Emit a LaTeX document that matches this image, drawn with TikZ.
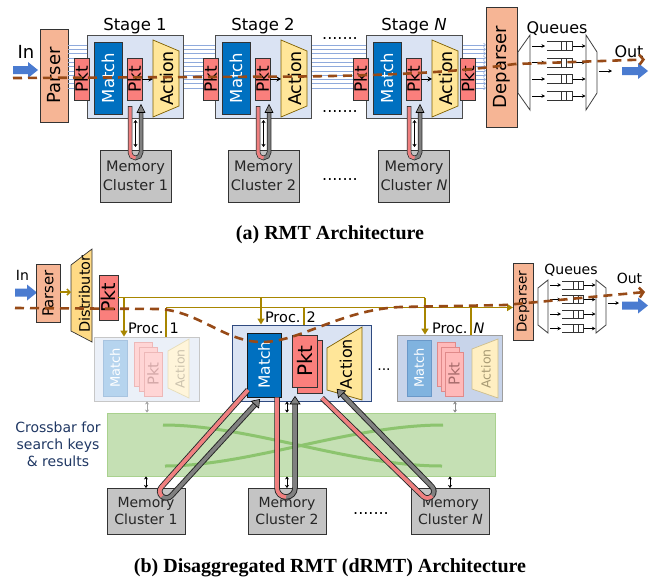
\documentclass[tikz,border=0pt]{standalone}
\usepackage{fontspec}
\usepackage{graphicx}
\setmainfont{DejaVu Sans}
\newfontfamily\capfont{Liberation Serif}
\usetikzlibrary{arrows.meta,calc}
\definecolor{matchblue}{HTML}{0070C0}
\definecolor{pktred}{HTML}{FA7F7C}
\definecolor{actyel}{HTML}{FFE699}
\definecolor{actline}{HTML}{7F6000}
\definecolor{stagefill}{HTML}{DAE3F3}
\definecolor{salmon}{HTML}{F6B595}
\definecolor{linkblue}{HTML}{8FAADC}
\definecolor{dashbrown}{HTML}{974A17}
\definecolor{olivec}{HTML}{A88600}
\definecolor{memgray}{HTML}{C4C4C4}
\definecolor{arrowblue}{HTML}{4A7BD0}
\definecolor{tubered}{HTML}{F07F7F}
\definecolor{tubegray}{HTML}{808080}
\definecolor{xbarfill}{HTML}{C5E0B4}
\definecolor{xbarline}{HTML}{A9D18E}
\definecolor{xbarcurve}{HTML}{8CC46E}
\definecolor{navytext}{HTML}{203864}
\definecolor{distfill}{HTML}{FFDA85}
\definecolor{procborder}{HTML}{2F4A80}
\definecolor{pnfill}{HTML}{C8D4EA}
\definecolor{fmline}{HTML}{A8C4E0}
\definecolor{fmfill}{HTML}{B6D4EE}
\definecolor{fpline}{HTML}{EDB8B8}
\definecolor{fpfill}{HTML}{FFD5D5}
\definecolor{fptext}{HTML}{D4A8A8}
\definecolor{faline}{HTML}{E6DDBA}
\definecolor{fafill}{HTML}{FFF5DA}
\definecolor{fatext}{HTML}{CCC3AE}
\definecolor{nmline}{HTML}{6A98C8}
\definecolor{nmfill}{HTML}{80B3DF}
\definecolor{npline}{HTML}{E08A8A}
\definecolor{npfill}{HTML}{FFB9B9}
\definecolor{nptext}{HTML}{A86C6C}
\definecolor{naline}{HTML}{CDBE8E}
\definecolor{nafill}{HTML}{FFEFC2}
\definecolor{natext}{HTML}{A89A74}
\newcommand\fsz[1]{\fontsize{#1}{#1}\selectfont}
\newcommand\rot[1]{\rotatebox{90}{#1}}
\tikzset{
  bx/.style={draw=black!80, line width=0.7pt, inner sep=0pt, outer sep=0pt},
  pktA/.style={bx, fill=pktred, minimum width=15pt, minimum height=42pt, font=\fsz{17}},
  matchA/.style={bx, fill=matchblue, text=white, minimum width=28pt, minimum height=72pt, font=\fsz{16.5}},
  stagebox/.style={draw=black!70, fill=stagefill, line width=0.8pt, minimum width=96pt, minimum height=83pt, inner sep=0pt},
  salbox/.style={bx, fill=salmon},
  memA/.style={bx, fill=memgray, minimum width=71pt, minimum height=52pt, align=center, font=\fontsize{14.5}{19}\selectfont, text=black!85},
  memB/.style={bx, fill=memgray, minimum width=78pt, minimum height=46pt, align=center, font=\fontsize{14}{17}\selectfont, text=black!85},
  actshape/.style={fill=actyel, draw=actline, line width=0.7pt},
  smarr/.style={line width=0.6pt, -{Stealth[length=3.5pt,width=3.5pt]}},
  linkl/.style={linkblue, line width=0.6pt},
  olivel/.style={olivec, line width=1.5pt},
  olivearr/.style={olivel, -{Triangle[length=6pt,width=7pt]}},
  dashbr/.style={dashbrown, line width=2.6pt, dash pattern=on 9pt off 6pt},
  dblarr/.style={line width=0.6pt, {Stealth[length=3pt,width=4pt]}-{Stealth[length=3pt,width=4pt]}},
  lbl/.style={inner sep=0pt, outer sep=0pt},
  muxs/.style={draw=black!75, fill=white, line width=0.8pt},
}
\newcommand\blockarr[3]{%
  \fill[arrowblue] (#1,{#3-4}) -- ({#2-10},{#3-4}) -- ({#2-10},{#3-8}) -- (#2,#3) -- ({#2-10},{#3+8}) -- ({#2-10},{#3+4}) -- (#1,{#3+4}) -- cycle;}
\newcommand\stageA[3]{%
  \node[stagebox] (#1) at ({#2+48},77) {};
  \node[lbl, font=\fsz{16.5}, anchor=base] (#1t) at ({#2+48},30) {#3};
  \node[matchA] (#1m) at ({#2+21},78) {\rot{Match}};
  \node[pktA] (#1p) at ({#2+47.5},79) {\rot{Pkt}};
  \draw[actshape] ({#2+66},40) -- ({#2+92},51) -- ({#2+92},106) -- ({#2+66},117) -- cycle;
  \coordinate (#1aw) at ({#2+66},79);
  \node[lbl, font=\fsz{17.5}] (#1a) at ({#2+79.5},78.5) {\rot{Action}};
  \draw[line width=0.8pt, -{Stealth[length=4.5pt,width=5pt]}] (#1p.east) -- (#1aw);
}
\newcommand\tubeA[2]{%
  \pgfmathsetmacro\xm{(#1+#2)/2}
  \draw[line width=4.5pt, black!85, rounded corners=5.5pt] (#1,106) -- (#1,158) -- (#2,158) -- (#2,112);
  \draw[line width=3pt, tubegray, rounded corners=5.5pt] (#1,106.8) -- (#1,158) -- (#2,158) -- (#2,112);
  \draw[line width=3pt, tubered, rounded corners=5.5pt] (#1,106.8) -- (#1,158) -- (\xm,158);
  \draw[line width=0.6pt, fill=tubegray] ({#2-4},112.5) -- (#2,104.5) -- ({#2+4},112.5) -- cycle;
  \draw[dblarr] (\xm,120) -- (\xm,147);
}
\newcommand\qicon[5]{%
  \draw[line width=0.7pt, black!80] ({#1-#3},{#2-#4/2}) -- (#1,{#2-#4/2}) -- (#1,{#2+#4/2}) -- ({#1-#3},{#2+#4/2});
  \draw[line width=0.7pt, black!80] ({#1-#5},{#2-#4/2}) -- ({#1-#5},{#2+#4/2}) ({#1-2*#5},{#2-#4/2}) -- ({#1-2*#5},{#2+#4/2});
}
\begin{document}
\begin{tikzpicture}[x=1pt,y=-1pt]
\useasboundingbox (0,0) rectangle (651,579);
\fill[white] (0,0) rectangle (651,579);

%%%%%%%%%%%%%%%% (a) RMT
\node[salbox, minimum width=28pt, minimum height=93pt, font=\fsz{18}] (parserA) at (54,75.5) {\rot{Parser}};
\node[salbox, minimum width=31pt, minimum height=120pt, font=\fsz{18}] (depA) at (501.5,67) {\rot{Deparser}};
\foreach \i in {0,...,10}{
  \pgfmathsetmacro\yy{45+4.3*\i}
  \draw[linkl, -{Straight Barb[length=2pt,width=3.5pt]}] (parserA.east |- 0,\yy) -- (depA.west |- 0,\yy);
}
\stageA{st1}{87}{Stage 1}
\stageA{st2}{215}{Stage 2}
\stageA{stN}{366}{Stage \textit{N}}
\node[pktA] (pa0) at (81.5,79) {\rot{Pkt}};
\node[pktA] (pa1) at (210.5,79) {\rot{Pkt}};
\node[pktA] (pa2) at (360.5,79) {\rot{Pkt}};
\node[pktA] (pa3) at (468,79) {\rot{Pkt}};
\node[lbl, font=\fsz{16}, anchor=base] (dotsA1) at (340,39) {.......};
\node[lbl, font=\fsz{16}, anchor=base] (dotsA2) at (340,112) {.......};

\node[lbl, font=\fsz{18}, anchor=base] (inA) at (26,58) {In};
\blockarr{13}{38}{70}

% queues (a)
\draw[muxs] (518,52) -- (530,35) -- (530,110) -- (518,93) -- cycle;
\draw[muxs] (586,35) -- (597,52) -- (597,93) -- (586,110) -- cycle;
\node[lbl, font=\fsz{16}, anchor=base] (queA) at (557,33) {Queues};
\foreach \yy in {46,62.5,79,96}{
  \draw[smarr] (532,\yy) -- (545,\yy);
  \qicon{572}{\yy}{25}{9}{5.5}
  \draw[smarr] (573,\yy) -- (585.5,\yy);
}
\draw[smarr] (599,71) -- (612,71);
\node[lbl, font=\fsz{16}, anchor=base] (outA) at (629,57) {Out};
\blockarr{622}{648}{71}

% memory clusters (a)
\node[memA] (mcA1) at (135.5,176) {Memory\\Cluster 1};
\node[memA] (mcA2) at (263.5,176) {Memory\\Cluster 2};
\node[memA] (mcAN) at (414,176) {Memory\\Cluster \textit{N}};
\node[lbl, font=\fsz{16}, anchor=base] (dotsA3) at (340,180) {.......};
\tubeA{130}{141}
\tubeA{258}{269}
\tubeA{409}{420}

\draw[dashbr, -{Straight Barb[length=4pt,width=10pt]}] (13,78) -- (300,76.5) .. controls (420,75) and (470,70) .. (515,64) -- (645,59.5);

\node[lbl, font=\capfont\bfseries\fsz{20}, anchor=base] (capA) at (330,239) {(a) RMT Architecture};

%%%%%%%%%%%%%%%% (b) dRMT
% crossbar
\node[draw=xbarline, fill=xbarfill, line width=0.8pt, minimum width=388pt, minimum height=63pt, inner sep=0pt] (xbar) at (301,444.5) {};
\draw[xbarcurve, line width=3pt] (163,425) .. controls (250,425) and (350,466) .. (442,466);
\draw[xbarcurve, line width=3pt] (165,466) .. controls (250,466) and (350,425) .. (443,425);
\node[lbl, font=\fontsize{14}{17}\selectfont, text=navytext, align=center] (xbl) at (58,444) {Crossbar for\\search keys\\\& results};

% memory clusters (b)
\node[memB] (mcB1) at (146,511) {Memory\\Cluster 1};
\node[memB] (mcB2) at (287,511) {Memory\\Cluster 2};
\node[memB] (mcBN) at (450.5,511) {Memory\\Cluster \textit{N}};
\node[lbl, font=\fsz{16}, anchor=base] (dotsB) at (371,514) {.......};

% input side
\node[lbl, font=\fsz{14}, anchor=base] (inB) at (22.5,280) {In};
\blockarr{15}{37}{292.5}
\node[salbox, minimum width=24pt, minimum height=58pt, font=\fsz{15}] (parserB) at (48,293.5) {\rot{Parser}};
\draw[fill=distfill, draw=black!80, line width=0.7pt] (71,265) -- (92,249) -- (92,342) -- (71,331) -- cycle;
\node[lbl, font=\fsz{14.5}] (distB) at (84.5,294) {\rot{Distributor}};
\draw[olivel, -{Straight Barb[length=3pt,width=6pt]}] (parserB.east |- 0,292) -- (71,292);
\node[bx, fill=pktred, minimum width=19pt, minimum height=45pt, font=\fsz{19}] (pktB) at (108.5,297.5) {\rot{Pkt}};

% processors
\node[draw=black!22, fill=stagefill!55!white, line width=0.8pt, minimum width=105pt, minimum height=64pt, inner sep=0pt] (proc1) at (146.5,369) {};
\node[draw=procborder, fill=stagefill, line width=1pt, minimum width=139pt, minimum height=76pt, inner sep=0pt] (proc2) at (301.5,363) {};
\node[draw=black!38, fill=pnfill, line width=0.8pt, minimum width=105pt, minimum height=66pt, inner sep=0pt] (procN) at (449.5,368) {};

% proc 1 (faded)
\node[draw=fmline, fill=fmfill, line width=0.7pt, minimum width=24pt, minimum height=56pt, inner sep=0pt, text=white, font=\fsz{13}] (m1) at (115,368) {\rot{Match}};
\draw[draw=fpline, fill=fpfill, line width=0.7pt] (134,342) rectangle (152,386);
\draw[draw=fpline, fill=fpfill, line width=0.7pt] (139,347) rectangle (157,391);
\node[draw=fpline, fill=fpfill, line width=0.7pt, minimum width=18pt, minimum height=44pt, inner sep=0pt, text=fptext, font=\fsz{15}] (p1) at (153,374) {\rot{Pkt}};
\draw[draw=faline, fill=fafill, line width=0.7pt] (168,351) -- (189,339) -- (189,398) -- (168,388) -- cycle;
\node[lbl, text=fatext, font=\fsz{12.5}] (a1) at (180,369) {\rot{Action}};

% proc N (semi faded)
\node[draw=nmline, fill=nmfill, line width=0.7pt, minimum width=24pt, minimum height=56pt, inner sep=0pt, text=white, font=\fsz{13}] (mN) at (419,368) {\rot{Match}};
\draw[draw=npline, fill=npfill, line width=0.7pt] (437,342) rectangle (455,386);
\draw[draw=npline, fill=npfill, line width=0.7pt] (441,347) rectangle (459,391);
\node[draw=npline, fill=npfill, line width=0.7pt, minimum width=18pt, minimum height=44pt, inner sep=0pt, text=nptext, font=\fsz{15}] (pN) at (454,374) {\rot{Pkt}};
\draw[draw=naline, fill=nafill, line width=0.7pt] (472,349) -- (498,339) -- (498,398) -- (472,389) -- cycle;
\node[lbl, text=natext, font=\fsz{12.5}] (aN) at (486,369) {\rot{Action}};

% proc 2 (active)
\node[bx, draw=black!90, fill=matchblue, text=white, minimum width=34pt, minimum height=64pt, font=\fsz{15.5}] (m2) at (264,365) {\rot{Match}};
\draw[fill=pktred, draw=black!80, line width=0.7pt] (297,340) rectangle (322,393);
\node[bx, fill=pktred, minimum width=25pt, minimum height=52pt, font=\fsz{20}] (p2) at (304.5,361) {\rot{Pkt}};
\draw[actshape] (327,348) -- (362,327) -- (362,400) -- (327,390) -- cycle;
\node[lbl, font=\fsz{16}] (a2) at (346,364) {\rot{Action}};
\node[lbl, font=\fsz{14}, anchor=base] (dotsP) at (384,370) {...};

% proc labels
\node[lbl, font=\fsz{14.5}, anchor=base west] (pl1) at (128,333) {Proc. 1};
\node[lbl, font=\fsz{14.5}, anchor=base west] (pl2) at (265,322) {Proc. 2};
\node[lbl, font=\fsz{14.5}, anchor=base west] (plN) at (432,333) {Proc. \textit{N}};

% olive buses
\draw[olivel] (pktB.east) -- (425,297.5);
\draw[olivearr] (425,297.5) -- (procN.north -| 425,0);
\draw[olivearr] (124,297.5) -- (proc1.north -| 124,0);
\draw[olivearr] (261,297.5) -- (proc2.north -| 261,0);
\draw[olivel] (proc1.north -| 166,0) -- (166,307.5);
\draw[olivel] (proc2.north -| 304,0) -- (304,307.5);
\draw[olivel] (procN.north -| 471,0) -- (471,307.5);

% deparser / queues (b)
\node[salbox, minimum width=20pt, minimum height=77pt, font=\fsz{13.5}] (depB) at (523,301.5) {\rot{Deparser}};
\draw[olivel, -{Triangle[length=6pt,width=7pt]}] (166,307.5) -- (depB.west |- 0,307.5);
\draw[muxs] (538,288) -- (548,280) -- (548,333) -- (538,325) -- cycle;
\draw[muxs] (596,280) -- (606,288) -- (606,325) -- (596,333) -- cycle;
\node[lbl, font=\fsz{14}, anchor=base] (queB) at (571,274) {Queues};
\foreach \yy in {285,299.5,314,328.5}{
  \draw[smarr] (550,\yy) -- (561,\yy);
  \qicon{583}{\yy}{21}{8}{5}
  \draw[smarr] (584,\yy) -- (595.5,\yy);
}
\draw[smarr] (608,303) -- (619,303);
\node[lbl, font=\fsz{14}, anchor=base] (outB) at (629.5,283) {Out};
\blockarr{622}{648}{305.5}

% small double arrows
\draw[dblarr, black!35] (proc1.south -| 147,0) -- (xbar.north -| 147,0);
\draw[dblarr] (proc2.south -| 287,0) -- (xbar.north -| 287,0);
\draw[dblarr, black!45] (procN.south -| 455,0) -- (xbar.north -| 455,0);
\draw[dblarr] (xbar.south -| 146,0) -- (mcB1.north -| 146,0);
\draw[dblarr] (xbar.south -| 287,0) -- (mcB2.north -| 287,0);
\draw[dblarr] (xbar.south -| 450,0) -- (mcBN.north -| 450,0);

% tubes (b)
\draw[line width=5.5pt, black!85, rounded corners=6.5pt] (248,390) -- (157,492) -- (167,500.5) -- (255,404.6);
\draw[line width=3.6pt, tubegray, rounded corners=6.5pt] (248,390) -- (157,492) -- (167,500.5) -- (255,404.6);
\draw[line width=3.6pt, tubered, rounded corners=6.5pt] (248,390) -- (157,492) -- (162,496.25);
\draw[line width=0.6pt, fill=tubegray] (258.7,408.0) -- (259.7,399.4) -- (251.3,401.2) -- cycle;

\draw[line width=5.5pt, black!85, rounded corners=9pt] (277,397.5) -- (277,497) -- (295,497) -- (295,404);
\draw[line width=3.6pt, tubegray, rounded corners=9pt] (277,397.5) -- (277,497) -- (295,497) -- (295,404);
\draw[line width=3.6pt, tubered, rounded corners=9pt] (277,397.5) -- (277,497) -- (286,497);
\draw[line width=0.6pt, fill=tubegray] (290,404) -- (295,396.5) -- (300,404) -- cycle;

\draw[line width=5.5pt, black!85, rounded corners=6.5pt] (322,398) -- (427.5,500.7) -- (436.5,491.3) -- (342,394.3);
\draw[line width=3.6pt, tubegray, rounded corners=6.5pt] (322,398) -- (427.5,500.7) -- (436.5,491.3) -- (342,394.3);
\draw[line width=3.6pt, tubered, rounded corners=6.5pt] (322,398) -- (427.5,500.7) -- (432,496);
\draw[line width=0.6pt, fill=tubegray] (345.6,390.8) -- (337.1,389.3) -- (338.4,397.8) -- cycle;

% packet path (b)
\draw[dashbr, -{Straight Barb[length=4pt,width=10pt]}] (15,308) -- (160,309) .. controls (200,312) and (225,342) .. (262,342) .. controls (300,342) and (340,310) .. (400,307) -- (505,305) -- (645,292);

\node[lbl, font=\capfont\bfseries\fsz{20}, anchor=base] (capB) at (330,572) {(b) Disaggregated RMT (dRMT) Architecture};
\end{tikzpicture}
\end{document}
